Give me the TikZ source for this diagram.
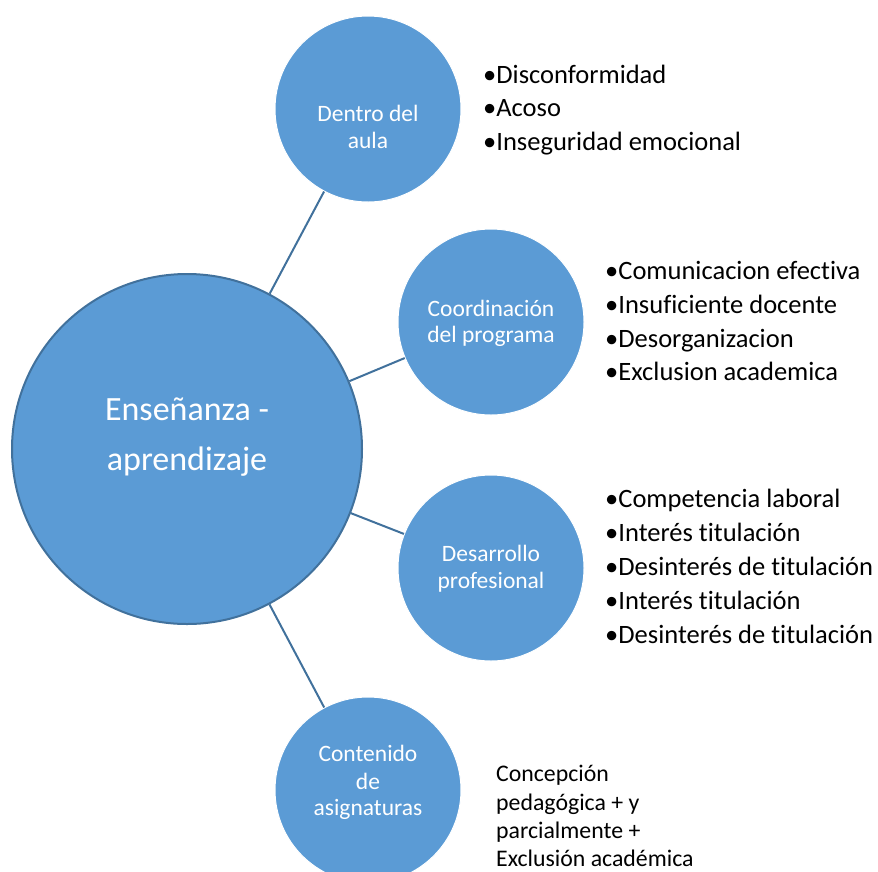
\documentclass[tikz,border=0pt]{standalone}
\usepackage{fontspec}
\setmainfont{Carlito}[Ligatures=CommonOff]
\definecolor{fillblue}{HTML}{5B9BD5}
\definecolor{edgeblue}{HTML}{41719C}
\begin{document}
\begin{tikzpicture}[x=1pt,y=-1pt,
  hub/.style={circle, fill=fillblue, draw=edgeblue, line width=2pt, minimum size=350pt, inner sep=0pt},
  sat/.style={circle, fill=fillblue, draw=white, line width=1pt, minimum size=186pt, inner sep=0pt},
  conn/.style={draw=edgeblue, line width=2pt},
  hubtext/.style={anchor=base, inner sep=0pt, text=white, font=\fontsize{34}{40}\selectfont},
  sattext/.style={anchor=base, inner sep=0pt, text=white, font=\fontsize{23.5}{28}\selectfont},
  item/.style={anchor=base west, inner sep=0pt, font=\fontsize{26.5}{31}\selectfont},
  note/.style={anchor=base west, inner sep=0pt, font=\fontsize{23.8}{28}\selectfont}]
\useasboundingbox (0,0) rectangle (878,871);
\clip (0,0) rectangle (878,871);

% circles
\node[hub] (big) at (187,449) {};
\node[sat] (c1) at (368,109) {};
\node[sat] (c2) at (491,322) {};
\node[sat] (c3) at (491,568) {};
\node[sat] (c4) at (368,790) {};

% connectors
\draw[conn] (big) -- (c1);
\draw[conn] (big) -- (c2);
\draw[conn] (big) -- (c3);
\draw[conn] (big) -- (c4);

% circle labels
\node[hubtext] (bigA) at (187,420.7) {Enseñanza -};
\node[hubtext] (bigB) at (187,470) {aprendizaje};

\node[sattext] (c1A) at (368,121.7) {Dentro del};
\node[sattext] (c1B) at (368,148.3) {aula};

\node[sattext] (c2A) at (491,316) {Coordinación};
\node[sattext] (c2B) at (491,342.7) {del programa};

\node[sattext] (c3A) at (491,561.7) {Desarrollo};
\node[sattext] (c3B) at (491,588.3) {profesional};

\node[sattext] (c4A) at (368,761.7) {Contenido};
\node[sattext] (c4B) at (368,789.3) {de};
\node[sattext] (c4C) at (368,815) {asignaturas};

% lists
\node[item] (l1a) at (483,83) {•Disconformidad};
\node[item] (l1b) at (483,116.7) {•Acoso};
\node[item] (l1c) at (483,150.4) {•Inseguridad emocional};

\node[item] (l2a) at (605,279.5) {•Comunicacion efectiva};
\node[item] (l2b) at (605,313.3) {•Insuficiente docente};
\node[item] (l2c) at (605,347.1) {•Desorganizacion};
\node[item] (l2d) at (605,380.9) {•Exclusion academica};

\node[item] (l3a) at (605,507.5) {•Competencia laboral};
\node[item] (l3b) at (605,541.5) {•Interés titulación};
\node[item] (l3c) at (605,575.5) {•Desinterés de titulación};
\node[item] (l3d) at (605,609.5) {•Interés titulación};
\node[item] (l3e) at (605,643.5) {•Desinterés de titulación};

\node[note] (n1) at (496,781.7) {Concepción};
\node[note] (n2) at (496,810) {pedagógica + y};
\node[note] (n3) at (496,838.3) {parcialmente +};
\node[note] (n4) at (496,866.6) {Exclusión académica};
\end{tikzpicture}
\end{document}
